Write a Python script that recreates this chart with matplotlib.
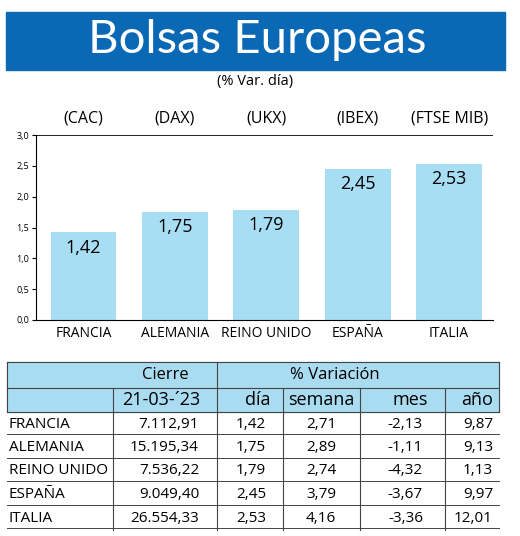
import matplotlib
matplotlib.use("Agg")
import matplotlib.pyplot as plt
from matplotlib.patches import Rectangle

countries = ["FRANCIA", "ALEMANIA", "REINO UNIDO", "ESPAÑA", "ITALIA"]
indices = ["(CAC)", "(DAX)", "(UKX)", "(IBEX)", "(FTSE MIB)"]
dia = [1.42, 1.75, 1.79, 2.45, 2.53]
cierre = ["7.112,91", "15.195,34", "7.536,22", "9.049,40", "26.554,33"]
semana = ["2,71", "2,89", "2,74", "3,79", "4,16"]
mes = ["-2,13", "-1,11", "-4,32", "-3,67", "-3,36"]
anio = ["9,87", "9,13", "1,13", "9,97", "12,01"]
yticks = [0.0, 0.5, 1.0, 1.5, 2.0, 2.5, 3.0]

FONT = ["Liberation Sans Narrow", "Open Sans", "DejaVu Sans"]
plt.rcParams['font.family'] = FONT
W, H = 520, 536
fig = plt.figure(figsize=(W/100, H/100), dpi=100)

# overlay in pixel coords
ov = fig.add_axes([0, 0, 1, 1])
ov.set_xlim(0, W); ov.set_ylim(H, 0); ov.axis("off")
ov.add_patch(Rectangle((6, 12), 499, 58, color="#0a68b4"))
ov.text(257, 40, "Bolsas Europeas", color="white", fontsize=34, ha="center", va="center",
        family=["Lato", "DejaVu Sans"])
ov.text(255, 82, "(% Var. día)", fontsize=10.5, ha="center", va="center", family=["Open Sans", "DejaVu Sans"])

# bar chart
L, R, T, B = 36, 493, 135, 320
ax = fig.add_axes([L/W, 1-B/H, (R-L)/W, (B-T)/H])
x = list(range(len(dia)))
ax.bar(x, dia, width=0.72, color="#a8def4", zorder=2)
ax.set_xlim(-0.52, 4.48)
ax.set_ylim(0, 3.0)
ax.set_yticks(yticks)
ax.set_yticklabels([f"{v:.1f}".replace(".", ",") for v in yticks], fontsize=6.5)
ax.set_xticks(x)
ax.set_xticklabels(countries, fontsize=10)
ax.tick_params(axis="x", length=0, pad=4)
ax.tick_params(axis="y", length=3, pad=2)
for s in ["top", "right"]:
    ax.spines[s].set_visible(False)
ax.axhline(3.0, color="black", lw=1.2)
for i, v in enumerate(dia):
    ax.text(i, v - 0.1, f"{v:.2f}".replace(".", ","), ha="center", va="top", fontsize=13)
    ax.text(i, 3.13, indices[i], ha="center", va="bottom", fontsize=11.5, clip_on=False)

# table
tx0, tx1 = 7, 499
ov.add_patch(Rectangle((tx0, 362), tx1-tx0, 50, color="#a9dcf1", zorder=0))
for yy in [362, 388, 412]:
    ov.plot([tx0, tx1], [yy, yy], color="#444", lw=0.8)
ov.plot([tx0, tx0], [362, 412], color="#444", lw=0.8)
ov.plot([tx1, tx1], [362, 412], color="#444", lw=0.8)
ov.plot([217, 217], [362, 530], color="#444", lw=0.8)
for cx in [113, 283, 360, 445]:
    ov.plot([cx, cx], [388, 530], color="#444", lw=0.8)
fs = 11
ov.text(165, 375, "Cierre", fontsize=12, ha="center", va="center")
ov.text(335, 375, "% Variación", fontsize=12, ha="center", va="center")
ov.text(200, 400, "21-03-´23", fontsize=13, ha="right", va="center")
ov.text(270, 400, "día", fontsize=13, ha="right", va="center")
ov.text(321, 400, "semana", fontsize=13, ha="center", va="center")
ov.text(410, 400, "mes", fontsize=13, ha="center", va="center")
ov.text(493, 400, "año", fontsize=13, ha="right", va="center")
for r in range(len(countries)):
    yc = 424 + r * 23.5
    ov.plot([tx0, tx1], [yc + 10, yc + 10], color="#444", lw=0.7)
    ov.text(9, yc, countries[r], fontsize=fs, va="center")
    ov.text(199, yc, cierre[r], fontsize=fs, va="center", ha="right")
    ov.text(266, yc, f"{dia[r]:.2f}".replace(".", ","), fontsize=fs, va="center", ha="right")
    ov.text(321, yc, semana[r], fontsize=fs, va="center", ha="center")
    ov.text(423, yc, mes[r], fontsize=fs, va="center", ha="right")
    ov.text(493, yc, anio[r], fontsize=fs, va="center", ha="right")

fig.savefig("out.png", dpi=100)
